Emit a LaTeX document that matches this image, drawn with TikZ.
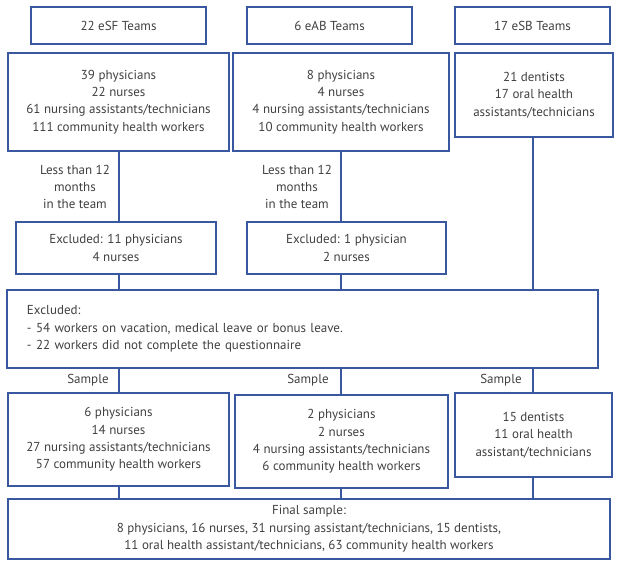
\documentclass[tikz,border=0pt]{standalone}
\usepackage{fontspec}
\setmainfont{PT Sans}
\definecolor{boxblue}{RGB}{58,88,160}
\definecolor{txtgray}{RGB}{64,64,64}
\begin{document}
\begin{tikzpicture}[x=1pt,y=-1pt,
  every node/.style={font=\fontsize{13}{17.3}\selectfont, text=txtgray},
  bx/.style={draw=boxblue, line width=1.1pt, align=center, inner sep=0pt},
  lbl/.style={align=center, inner sep=0pt},
  conn/.style={draw=boxblue, line width=1.1pt}]
\useasboundingbox (0,0) rectangle (618,564);
% top row
\node[bx, minimum width=175, minimum height=37] (t1) at (118.5,25.5) {22 eSF Teams};
\node[bx, minimum width=165, minimum height=37] (t2) at (329.5,25.5) {6 eAB Teams};
\node[bx, minimum width=155, minimum height=37] (t3) at (532.5,25.5) {17 eSB Teams};
% second row
\node[bx, minimum width=221, minimum height=98] (a1) at (118.5,102) {39 physicians\\22 nurses\\61 nursing assistants/technicians\\111 community health workers};
\node[bx, minimum width=216, minimum height=98] (a2) at (341,102) {8 physicians\\4 nurses\\4 nursing assistants/technicians\\10 community health workers};
\node[bx, minimum width=158, minimum height=84] (a3) at (534,95) {21 dentists\\17 oral health\\assistants/technicians};
% labels
\node[lbl] (l1) at (75,187) {Less than 12\\months\\in the team};
\node[lbl] (l2) at (297,187) {Less than 12\\months\\in the team};
% excluded
\node[bx, minimum width=200, minimum height=52] (e1) at (116,248) {Excluded: 11 physicians\\4 nurses};
\node[bx, minimum width=199, minimum height=52] (e2) at (346.5,248) {Excluded: 1 physician\\2 nurses};
% big excluded
\node[bx, minimum width=591, minimum height=78, align=left, text width=551, inner xsep=20pt] (big) at (302.5,329) {Excluded:\\- 54 workers on vacation, medical leave or bonus leave.\\- 22 workers did not complete the questionnaire};
% sample labels
\node[lbl] (sl1) at (88,380) {Sample};
\node[lbl] (sl2) at (308,380) {Sample};
\node[lbl] (sl3) at (501,380) {Sample};
% samples
\node[bx, minimum width=221, minimum height=93] (s1) at (118.5,439.5) {6 physicians\\14 nurses\\27 nursing assistants/technicians\\57 community health workers};
\node[bx, minimum width=213, minimum height=93] (s2) at (341.5,441.5) {2 physicians\\2 nurses\\4 nursing assistants/technicians\\6 community health workers};
\node[bx, minimum width=157, minimum height=84] (s3) at (533.5,435) {15 dentists\\11 oral health\\assistant/technicians};
% final
\node[bx, minimum width=602, minimum height=60] (f) at (309,529) {Final sample:\\8 physicians, 16 nurses, 31 nursing assistant/technicians, 15 dentists,\\11 oral health assistant/technicians, 63 community health workers};
% columns
\coordinate (c1) at (119,0);
\coordinate (c2) at (341,0);
\coordinate (c3) at (533,0);
\draw[conn] (a1.south -| c1) -- (e1.north -| c1);
\draw[conn] (e1.south -| c1) -- (big.north -| c1);
\draw[conn] (big.south -| c1) -- (s1.north -| c1);
\draw[conn] (s1.south -| c1) -- (f.north -| c1);
\draw[conn] (a2.south -| c2) -- (e2.north -| c2);
\draw[conn] (e2.south -| c2) -- (big.north -| c2);
\draw[conn] (big.south -| c2) -- (s2.north -| c2);
\draw[conn] (s2.south -| c2) -- (f.north -| c2);
\draw[conn] (a3.south -| c3) -- (big.north -| c3);
\draw[conn] (big.south -| c3) -- (s3.north -| c3);
\draw[conn] (s3.south -| c3) -- (f.north -| c3);
\end{tikzpicture}
\end{document}
